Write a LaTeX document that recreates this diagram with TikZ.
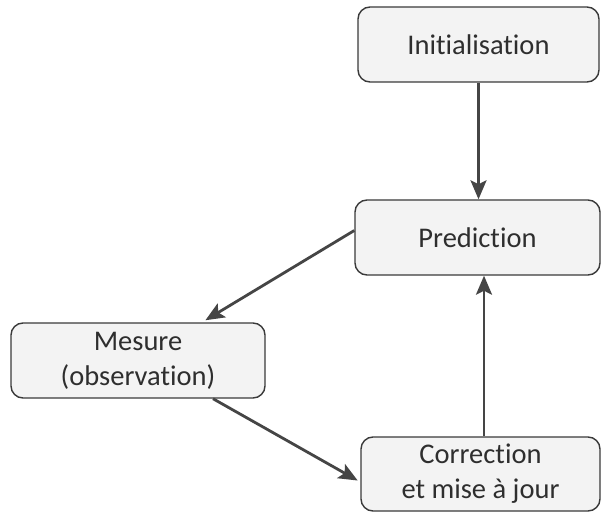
\documentclass[tikz,border=0pt]{standalone}
\usepackage{fontspec}
\setmainfont[Ligatures={NoCommon}]{Carlito}
\usetikzlibrary{arrows.meta}
\definecolor{boxfill}{HTML}{F3F3F3}
\definecolor{boxline}{HTML}{3A3A3A}
\definecolor{arrcol}{HTML}{454545}
\definecolor{txtcol}{HTML}{2E2E2E}
\tikzset{
  stepbox/.style={draw=boxline, line width=1.4pt, fill=boxfill, rounded corners=12pt,
    text=txtcol, align=center, inner sep=0pt,
    font=\fontsize{28.5}{35}\selectfont},
  arr/.style={draw=arrcol, line width=2.8pt,
    -{Stealth[length=19pt,width=16pt,inset=4pt]}}
}
\begin{document}
\begin{tikzpicture}[x=1pt,y=-1pt]
\useasboundingbox (0,0) rectangle (602,513);
\node[stepbox, minimum width=241pt, minimum height=75pt] (init) at (478.5,44.5) {Initialisation};
\node[stepbox, minimum width=245pt, minimum height=75pt] (pred) at (477.5,237.5) {Prediction};
\node[stepbox, minimum width=254pt, minimum height=75pt] (mes) at (138,360.5) {Mesure\\(observation)};
\node[stepbox, minimum width=239pt, minimum height=74pt] (corr) at (480.5,474) {Correction\\et mise à jour};
\draw[arr] (init.south) -- (init.south |- pred.north);
\draw[arr] ([xshift=3.5pt]corr.north) -- ([xshift=3.5pt]corr.north |- pred.south);
\draw[arr, shorten >=4pt] ([yshift=7pt]pred.west) -- ([xshift=64pt]mes.north);
\draw[arr, shorten >=3pt] ([xshift=75pt]mes.south) -- ([yshift=-8pt]corr.west);
\end{tikzpicture}
\end{document}
